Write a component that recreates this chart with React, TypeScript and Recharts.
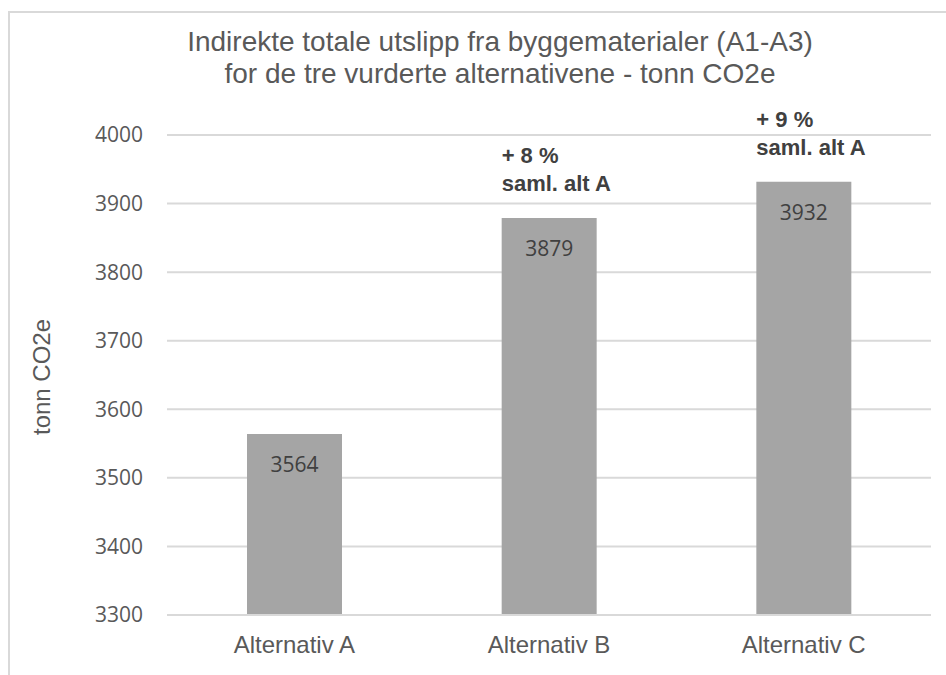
import React from "react";
import { Bar, BarChart, CartesianGrid, LabelList, XAxis, YAxis } from "recharts";

const categories = ["Alternativ A", "Alternativ B", "Alternativ C"];
const emissions = [3564, 3879, 3932];
const changeNotes = ["", "+ 8 %", "+ 9 %"];
const yTicks = [3300, 3400, 3500, 3600, 3700, 3800, 3900, 4000];

const data = categories.map((name, i) => ({
  name,
  value: emissions[i],
  note: changeNotes[i]
}));

const TEXT = "#595959";
const DARK = "#404040";

const renderValue = (props: any) => {
  const { x, y, width, value } = props;
  return (
    <text
      x={x + width / 2}
      y={y + 30}
      fill={DARK}
      textAnchor="middle"
      dominantBaseline="central"
      fontFamily="'Open Sans', sans-serif"
      fontSize={21}
    >
      {value}
    </text>
  );
};

const renderNote = (props: any) => {
  const { x, y, value } = props;
  if (!value) return null;
  return (
    <text
      x={x}
      fill={DARK}
      fontFamily="'Liberation Sans', Arial, sans-serif"
      fontSize={22}
      fontWeight="bold"
      dominantBaseline="central"
    >
      <tspan x={x} y={y - 63}>{value}</tspan>
      <tspan x={x} y={y - 35}>saml. alt A</tspan>
    </text>
  );
};

const App = () => {
  return (
    <div
      style={{
        position: "absolute",
        left: 0,
        top: 0,
        width: 946,
        height: 675,
        overflow: "hidden",
        background: "#fff"
      }}
    >
      <div
        style={{
          position: "absolute",
          left: 8,
          top: 11,
          width: 1000,
          height: 1000,
          border: "2px solid #d9d9d9"
        }}
      />
      <div
        style={{
          position: "absolute",
          left: 0,
          top: 26,
          width: 1000,
          textAlign: "center",
          fontFamily: "'Liberation Sans', Arial, sans-serif",
          fontSize: 28,
          lineHeight: "32px",
          color: TEXT
        }}
      >
        Indirekte totale utslipp fra byggematerialer (A1-A3)
        <br />
        for de tre vurderte alternativene - tonn CO2e
      </div>
      <div
        style={{
          position: "absolute",
          left: 42,
          top: 377,
          transform: "translate(-50%, -50%) rotate(-90deg)",
          whiteSpace: "nowrap",
          fontFamily: "'Liberation Sans', Arial, sans-serif",
          fontSize: 24,
          color: TEXT
        }}
      >
        tonn CO2e
      </div>
      <div style={{ position: "absolute", left: 0, top: 0 }}>
        <BarChart
          width={946}
          height={675}
          data={data}
          margin={{ top: 135, right: 15, bottom: 0, left: 0 }}
        >
          <CartesianGrid vertical={false} stroke="#d9d9d9" strokeWidth={2} />
          <XAxis
            dataKey="name"
            height={60}
            tickLine={false}
            axisLine={{ stroke: "#d9d9d9", strokeWidth: 2 }}
            tickSize={0}
            tickMargin={21}
            tick={{
              fill: TEXT,
              fontSize: 24,
              fontFamily: "'Liberation Sans', Arial, sans-serif"
            }}
          />
          <YAxis
            width={167}
            domain={[3300, 4000]}
            ticks={yTicks}
            tickLine={false}
            axisLine={false}
            tickSize={0}
            tickMargin={24}
            tick={{
              fill: TEXT,
              fontSize: 21,
              fontFamily: "'Open Sans', sans-serif"
            }}
          />
          <Bar
            dataKey="value"
            fill="#a5a5a5"
            barSize={95}
            isAnimationActive={false}
          >
            <LabelList dataKey="value" content={renderValue} />
            <LabelList dataKey="note" content={renderNote} />
          </Bar>
        </BarChart>
      </div>
    </div>
  );
};

export default App;
